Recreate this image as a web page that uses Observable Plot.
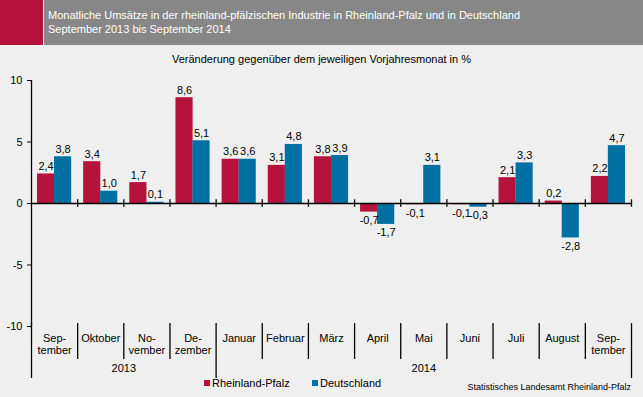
<!DOCTYPE html>
<html>
<head>
<meta charset="utf-8">
<script src="https://cdn.jsdelivr.net/npm/d3@7"></script>
<script src="https://cdn.jsdelivr.net/npm/@observablehq/plot@0.6"></script>
<style>
  html, body { margin: 0; padding: 0; background: #EEEFEE; }
  #wrap { position: relative; width: 643px; height: 397px; overflow: hidden; background: #EEEFEE;
          font-family: "Liberation Sans", Arial, sans-serif; color: #000; }
  #redblock { position: absolute; left: 0; top: 0; width: 43px; height: 45px; background: #B5123E; }
  #grayband { position: absolute; left: 44px; top: 0; width: 599px; height: 45px; background: #878787; }
  #title { position: absolute; left: 48px; top: 9px; color: #fff; font-size: 11px; line-height: 13.5px; white-space: nowrap; }
  #subtitle { position: absolute; left: 0; width: 643px; top: 53px; text-align: center; font-size: 11px; white-space: nowrap; }
  #chart { position: absolute; left: 0; top: 44px; }
  .leg { position: absolute; top: 377px; font-size: 11px; white-space: nowrap; line-height: 12px; }
  .sw { display: inline-block; width: 6px; height: 6px; margin-right: 2px; vertical-align: 1px; }
  #source { position: absolute; right: 12px; top: 382px; font-size: 9px; white-space: nowrap; }
</style>
</head>
<body>
<div id="wrap">
  <div id="redblock"></div>
  <div id="grayband"></div>
  <div id="title">Monatliche Umsätze in der rheinland-pfälzischen Industrie in Rheinland-Pfalz und in Deutschland<br>September 2013 bis September 2014</div>
  <div id="subtitle">Veränderung gegenüber dem jeweiligen Vorjahresmonat in %</div>
  <div id="chart"></div>
  <div class="leg" style="left:204px"><span class="sw" style="background:#B5123E"></span>Rheinland-Pfalz</div>
  <div class="leg" style="left:312px"><span class="sw" style="background:#0070A2"></span>Deutschland</div>
  <div id="source">Statistisches Landesamt Rheinland-Pfalz</div>
</div>
<script>
const months = ["Sep-\ntember","Oktober","No-\nvember","De-\nzember","Januar","Februar","März","April","Mai","Juni","Juli","August","Sep-\ntember"];
const rlp = [2.4, 3.4, 1.7, 8.6, 3.6, 3.1, 3.8, -0.7, -0.1, -0.1, 2.1, 0.2, 2.2];
const de  = [3.8, 1.0, 0.1, 5.1, 3.6, 4.8, 3.9, -1.7, 3.1, -0.3, 3.3, -2.8, 4.7];
const yTicks = [-10, -5, 0, 5, 10];
const years = [{label: "2013", from: 0, to: 4}, {label: "2014", from: 4, to: 13}];

const RED = "#B5123E", BLUE = "#0070A2";
const rows = months.map((m, i) => ({i, m, rlp: rlp[i], de: de[i]}));
const fmt = v => v.toFixed(1).replace(".", ",");
const bounds = d3.range(0, months.length + 1);
const innerBounds = bounds.filter(b => b !== 0 && b !== 4 && b !== months.length);
const longBounds = [0, 4, months.length];

const plot = Plot.plot({
  width: 643,
  height: 353,
  marginTop: 36,
  marginBottom: 71,
  marginLeft: 31,
  marginRight: 12,
  style: {background: "transparent", fontFamily: "'Liberation Sans', Arial, sans-serif", fontSize: "11px", color: "#000", overflow: "visible"},
  x: {domain: [0, months.length]},
  y: {domain: [-10, 10], ticks: yTicks, tickSize: 4, tickPadding: 5, tickFormat: d => String(d), label: null},
  marks: [
    Plot.rect(rows, {x1: "i", x2: d => d.i + 1, y1: 0, y2: "rlp", fill: RED, insetLeft: 6, insetRight: 23}),
    Plot.rect(rows, {x1: "i", x2: d => d.i + 1, y1: 0, y2: "de", fill: BLUE, insetLeft: 23, insetRight: 6}),
    Plot.ruleY([0], {stroke: "#000", strokeWidth: 1.3}),
    Plot.ruleX(bounds.slice(1), {y1: -0.3, y2: 0.3, stroke: "#000", strokeWidth: 1.3}),
    Plot.ruleX([0], {y1: -10, y2: 10, stroke: "#000", strokeWidth: 1.3}),
    Plot.text(rows, {filter: d => d.rlp >= 0, x: d => d.i + 0.5, y: "rlp", text: d => fmt(d.rlp), dx: -8.5, dy: -4, lineAnchor: "bottom", fontSize: 11}),
    Plot.text(rows, {filter: d => d.rlp < 0, x: d => d.i + 0.5, y: "rlp", text: d => fmt(d.rlp), dx: -8.5, dy: 4, lineAnchor: "top", fontSize: 11}),
    Plot.text(rows, {filter: d => d.de >= 0, x: d => d.i + 0.5, y: "de", text: d => fmt(d.de), dx: 8.5, dy: -4, lineAnchor: "bottom", fontSize: 11}),
    Plot.text(rows, {filter: d => d.de < 0, x: d => d.i + 0.5, y: "de", text: d => fmt(d.de), dx: 8.5, dy: 4, lineAnchor: "top", fontSize: 11}),
    Plot.text(rows, {x: d => d.i + 0.5, text: "m", frameAnchor: "bottom", lineAnchor: "top", dy: 7, lineHeight: 1.1, fontSize: 11}),
    Plot.text(years, {x: d => (d.from + d.to) / 2, text: "label", frameAnchor: "bottom", dy: 45, fontSize: 11}),
    Plot.axisX({ticks: innerBounds, tickSize: 36, dy: -3, tickFormat: () => "", stroke: "#000", strokeWidth: 1.3, label: null}),
    Plot.axisX({ticks: longBounds, tickSize: 55, dy: -3, tickFormat: () => "", stroke: "#000", strokeWidth: 1.3, label: null})
  ]
});
document.getElementById("chart").appendChild(plot);
</script>
</body>
</html>
